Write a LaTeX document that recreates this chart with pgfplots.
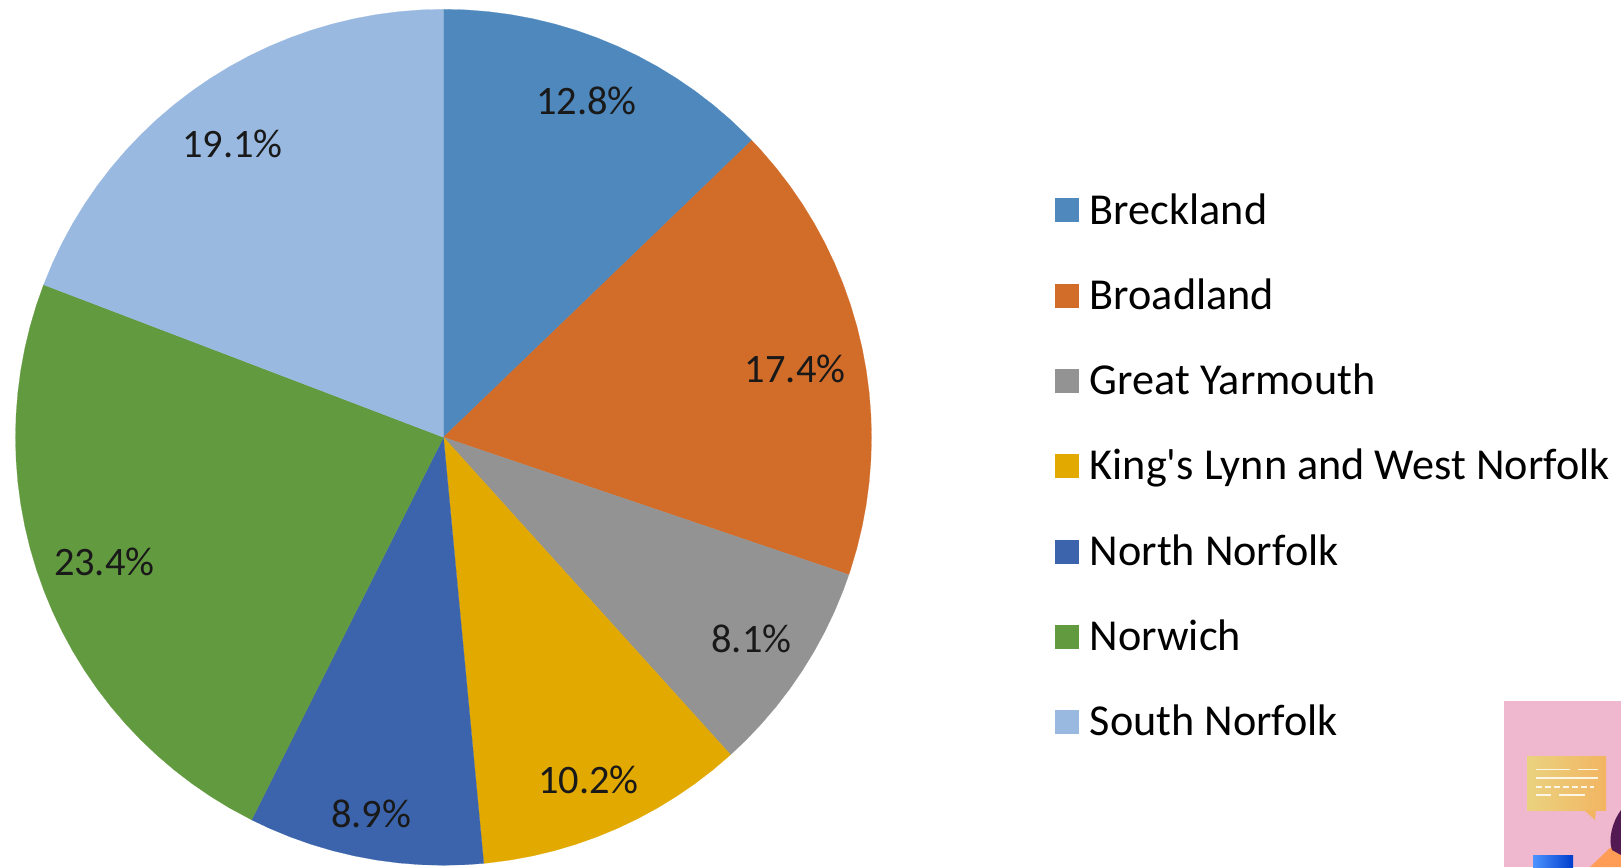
\documentclass[border=0pt]{standalone}
\usepackage{fontspec}
\setmainfont{Carlito}[Ligatures=TeXOff]
\usepackage{pgfplots}
\pgfplotsset{compat=1.18}
\usepgfplotslibrary{polar}
\definecolor{breck}{HTML}{4F88BC}
\definecolor{broad}{HTML}{D26C29}
\definecolor{yarm}{HTML}{939393}
\definecolor{kings}{HTML}{E2A900}
\definecolor{nnor}{HTML}{3C64AC}
\definecolor{norw}{HTML}{629A3F}
\definecolor{snor}{HTML}{99B9E0}
\definecolor{pinkbg}{HTML}{F0B8CE}
\definecolor{bubl}{HTML}{EAD27F}
\definecolor{bubr}{HTML}{F2B562}
\pgfplotsset{slice/.style={fill=#1, draw=#1, line width=0.1pt}}
\newcommand{\plabel}[2]{\node[text=black!90] at (axis cs:#1) {\fontsize{20.2}{24}\selectfont #2};}
\begin{document}
\begin{tikzpicture}
\path[use as bounding box] (0,0) rectangle (810.5pt,433.5pt);
\begin{polaraxis}[
  at={(221.75pt,214.85pt)}, anchor=center,
  scale only axis, width=428pt, height=428pt,
  hide axis, clip=false,
  xmin=-270, xmax=90, ymin=0, ymax=1,
  legend cell align=left,
  legend image code/.code={\fill[#1] (0pt,-3.25pt) rectangle (11.5pt,8.25pt); \path (17.2pt,0pt);},
  legend style={at={(1.2142,0.7800)}, anchor=north west, draw=none, fill=none,
    inner sep=0pt, row sep=25.65pt,
    font=\fontsize{22.1}{26}\selectfont,
    nodes={inner sep=0pt, text height=13pt, text depth=4pt}},
]
\addplot[slice=breck] coordinates {(0,0) (90,1) (87,1) (84,1) (81,1) (78,1) (75,1) (72,1) (69,1) (66,1) (63,1) (60,1) (57,1) (54,1) (51,1) (48,1) (45,1) (43.92,1)} --cycle;
\addlegendentry{Breckland}
\addplot[slice=broad] coordinates {(0,0) (43.92,1) (42,1) (39,1) (36,1) (33,1) (30,1) (27,1) (24,1) (21,1) (18,1) (15,1) (12,1) (9,1) (6,1) (3,1) (0,1) (-3,1) (-6,1) (-9,1) (-12,1) (-15,1) (-18,1) (-18.72,1)} --cycle;
\addlegendentry{Broadland}
\addplot[slice=yarm] coordinates {(0,0) (-18.72,1) (-21,1) (-24,1) (-27,1) (-30,1) (-33,1) (-36,1) (-39,1) (-42,1) (-45,1) (-47.88,1)} --cycle;
\addlegendentry{Great Yarmouth}
\addplot[slice=kings] coordinates {(0,0) (-47.88,1) (-51,1) (-54,1) (-57,1) (-60,1) (-63,1) (-66,1) (-69,1) (-72,1) (-75,1) (-78,1) (-81,1) (-84,1) (-84.6,1)} --cycle;
\addlegendentry{King's Lynn and West Norfolk}
\addplot[slice=nnor] coordinates {(0,0) (-84.6,1) (-87,1) (-90,1) (-93,1) (-96,1) (-99,1) (-102,1) (-105,1) (-108,1) (-111,1) (-114,1) (-116.64,1)} --cycle;
\addlegendentry{North Norfolk}
\addplot[slice=norw] coordinates {(0,0) (-116.64,1) (-120,1) (-123,1) (-126,1) (-129,1) (-132,1) (-135,1) (-138,1) (-141,1) (-144,1) (-147,1) (-150,1) (-153,1) (-156,1) (-159,1) (-162,1) (-165,1) (-168,1) (-171,1) (-174,1) (-177,1) (-180,1) (-183,1) (-186,1) (-189,1) (-192,1) (-195,1) (-198,1) (-200.88,1)} --cycle;
\addlegendentry{Norwich}
\addplot[slice=snor] coordinates {(0,0) (-200.88,1) (-204,1) (-207,1) (-210,1) (-213,1) (-216,1) (-219,1) (-222,1) (-225,1) (-228,1) (-231,1) (-234,1) (-237,1) (-240,1) (-243,1) (-246,1) (-249,1) (-252,1) (-255,1) (-258,1) (-261,1) (-264,1) (-267,1) (-270,1)} --cycle;
\addlegendentry{South Norfolk}
\plabel{67,0.855}{12.8\%}
\plabel{11,0.837}{17.4\%}
\plabel{-33.2,0.86}{8.1\%}
\plabel{-67.1,0.87}{10.2\%}
\plabel{-100.9,0.895}{8.9\%}
\plabel{-159.9,0.844}{23.4\%}
\plabel{-234.3,0.845}{19.1\%}
\end{polaraxis}
% screenshot overlay in the bottom right corner, in image pixels
\begin{scope}[x=0.5pt,y=-0.5pt,yshift=433.5pt]
\clip (0,0) rectangle (1621,867);
\fill[pinkbg] (1504,701) rectangle (1621,867);
\shade[left color=bubl, right color=bubr] (1527,757) rectangle (1606,810);
\fill[bubr] (1584,810) -- (1595,820) -- (1596,810) -- cycle;
\draw[white!80!bubl, line width=0.8pt] (1536,769.5) -- (1570,769.5) (1578,769.5) -- (1598,769.5)
  (1536,778) -- (1598,778) (1536,795) -- (1551,795) (1559,795) -- (1585,795);
\draw[white!80!bubl, line width=0.8pt, dash pattern=on 3pt off 1.5pt] (1536,787) -- (1594,787);
\shade[left color=blue!60!cyan!70!white, right color=blue!70!cyan!80!black] (1533,855) rectangle (1573,867);
\fill[orange!55!pink] (1590,867) -- (1610,848) -- (1621,843) -- (1621,867) -- cycle;
\fill[violet!50!black!90] (1621,810) .. controls (1612,822) and (1608,840) .. (1612,850) -- (1621,855) -- cycle;
\end{scope}
\end{tikzpicture}
\end{document}
